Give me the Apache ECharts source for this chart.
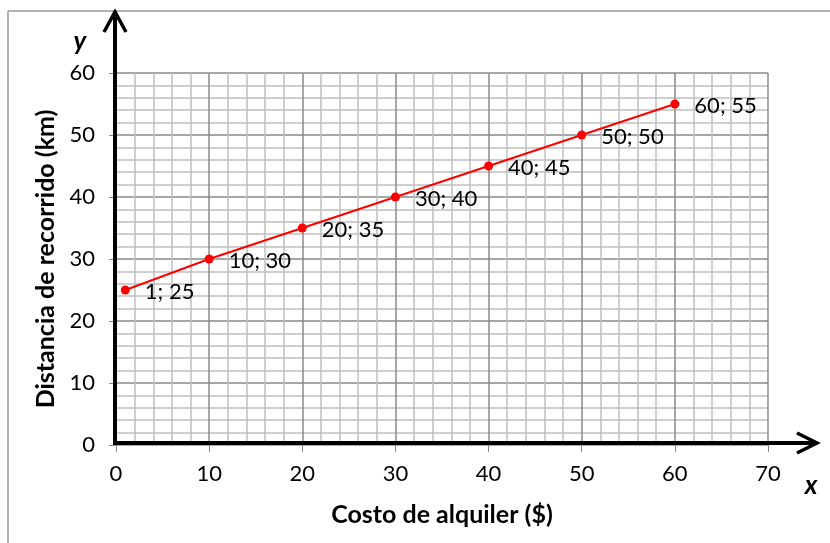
<!DOCTYPE html>
<html><head><meta charset="utf-8">
<script src="https://cdn.jsdelivr.net/npm/echarts@6/dist/echarts.min.js"></script>
<style>html,body{margin:0;padding:0;background:#fff}#c{width:830px;height:543px}</style>
</head><body><div id="c"></div>
<script>
const xValues = [1, 10, 20, 30, 40, 50, 60];
const yValues = [25, 30, 35, 40, 45, 50, 55];
const xTitle = 'Costo de alquiler ($)';
const yTitle = 'Distancia de recorrido (km)';
const FONT = 'Lato, "Open Sans", sans-serif';

(function () {
const chart = echarts.init(document.getElementById('c'), null, {renderer: 'canvas'});
const pts = xValues.map((x, i) => [x, yValues[i]]);
const option = {
  animation: false,
  grid: {left: 116, right: 62, top: 73, bottom: 98, containLabel: false},
  xAxis: {
    type: 'value', min: 0, max: 70, interval: 10,
    axisLine: {show: false},
    axisTick: {show: true, length: 7, lineStyle: {color: '#888', width: 1}},
    axisLabel: {color: '#000', fontSize: 22, fontFamily: FONT, margin: 18},
    splitLine: {show: true, lineStyle: {color: '#8a8a8a', width: 1.5}},
    minorTick: {show: false, splitNumber: 5},
    minorSplitLine: {show: true, lineStyle: {color: '#c0c0c0', width: 1.5}},
    name: xTitle, nameLocation: 'middle', nameGap: 57,
    nameTextStyle: {color: '#000', fontSize: 25, fontWeight: 'bold', fontFamily: FONT}
  },
  yAxis: {
    type: 'value', min: 0, max: 60, interval: 10,
    axisLine: {show: false},
    axisTick: {show: true, length: 7, lineStyle: {color: '#888', width: 1}},
    axisLabel: {color: '#000', fontSize: 22, fontFamily: FONT, margin: 21},
    splitLine: {show: true, lineStyle: {color: '#8a8a8a', width: 1.5}},
    minorTick: {show: false, splitNumber: 5},
    minorSplitLine: {show: true, lineStyle: {color: '#c0c0c0', width: 1.5}},
    name: yTitle, nameLocation: 'middle', nameGap: 58, nameRotate: 90,
    nameTextStyle: {color: '#000', fontSize: 25, fontWeight: 'bold', fontFamily: FONT}
  },
  series: [{
    type: 'line', data: pts,
    symbol: 'circle', symbolSize: 9,
    lineStyle: {color: '#ff0000', width: 2},
    itemStyle: {color: '#ff0000'},
    label: {
      show: true, position: 'right', distance: 15, offset: [0, 2],
      color: '#000', fontSize: 22, fontFamily: FONT,
      formatter: p => p.value[0] + '; ' + p.value[1]
    },
    z: 5
  }]
};
chart.setOption(option);

const o = chart.convertToPixel({gridIndex: 0}, [0, 0]);
const rightPt = chart.convertToPixel({gridIndex: 0}, [70, 0]);
const ax = o[0] - 1, ay = o[1] - 2;
const yEnd = 12, xEnd = rightPt[0] + 49;
chart.setOption({
  graphic: [
    {type: 'line', shape: {x1: 8, y1: 11, x2: 8, y2: 560}, style: {stroke: '#999', lineWidth: 1.5}, z: 1},
    {type: 'line', shape: {x1: 8, y1: 11, x2: 840, y2: 11}, style: {stroke: '#999', lineWidth: 1.5}, z: 1},
    {type: 'line', shape: {x1: ax, y1: ay + 2, x2: ax, y2: yEnd + 2}, style: {stroke: '#000', lineWidth: 4}, z: 10},
    {type: 'polyline', shape: {points: [[ax - 11, yEnd + 20], [ax, yEnd], [ax + 11, yEnd + 20]]}, style: {stroke: '#000', lineWidth: 3.5, fill: null}, z: 10},
    {type: 'line', shape: {x1: ax - 2, y1: ay, x2: xEnd - 2, y2: ay}, style: {stroke: '#000', lineWidth: 4}, z: 10},
    {type: 'polyline', shape: {points: [[xEnd - 20, ay - 10], [xEnd, ay], [xEnd - 20, ay + 10]]}, style: {stroke: '#000', lineWidth: 3.5, fill: null}, z: 10},
    {type: 'text', x: 80, y: 42, style: {text: 'y', font: 'italic bold 26px ' + FONT, fill: '#000', align: 'center', verticalAlign: 'middle'}, z: 10},
    {type: 'text', x: 811, y: 486, style: {text: 'x', font: 'italic bold 26px ' + FONT, fill: '#000', align: 'center', verticalAlign: 'middle'}, z: 10}
  ]
});
})();
</script></body></html>
